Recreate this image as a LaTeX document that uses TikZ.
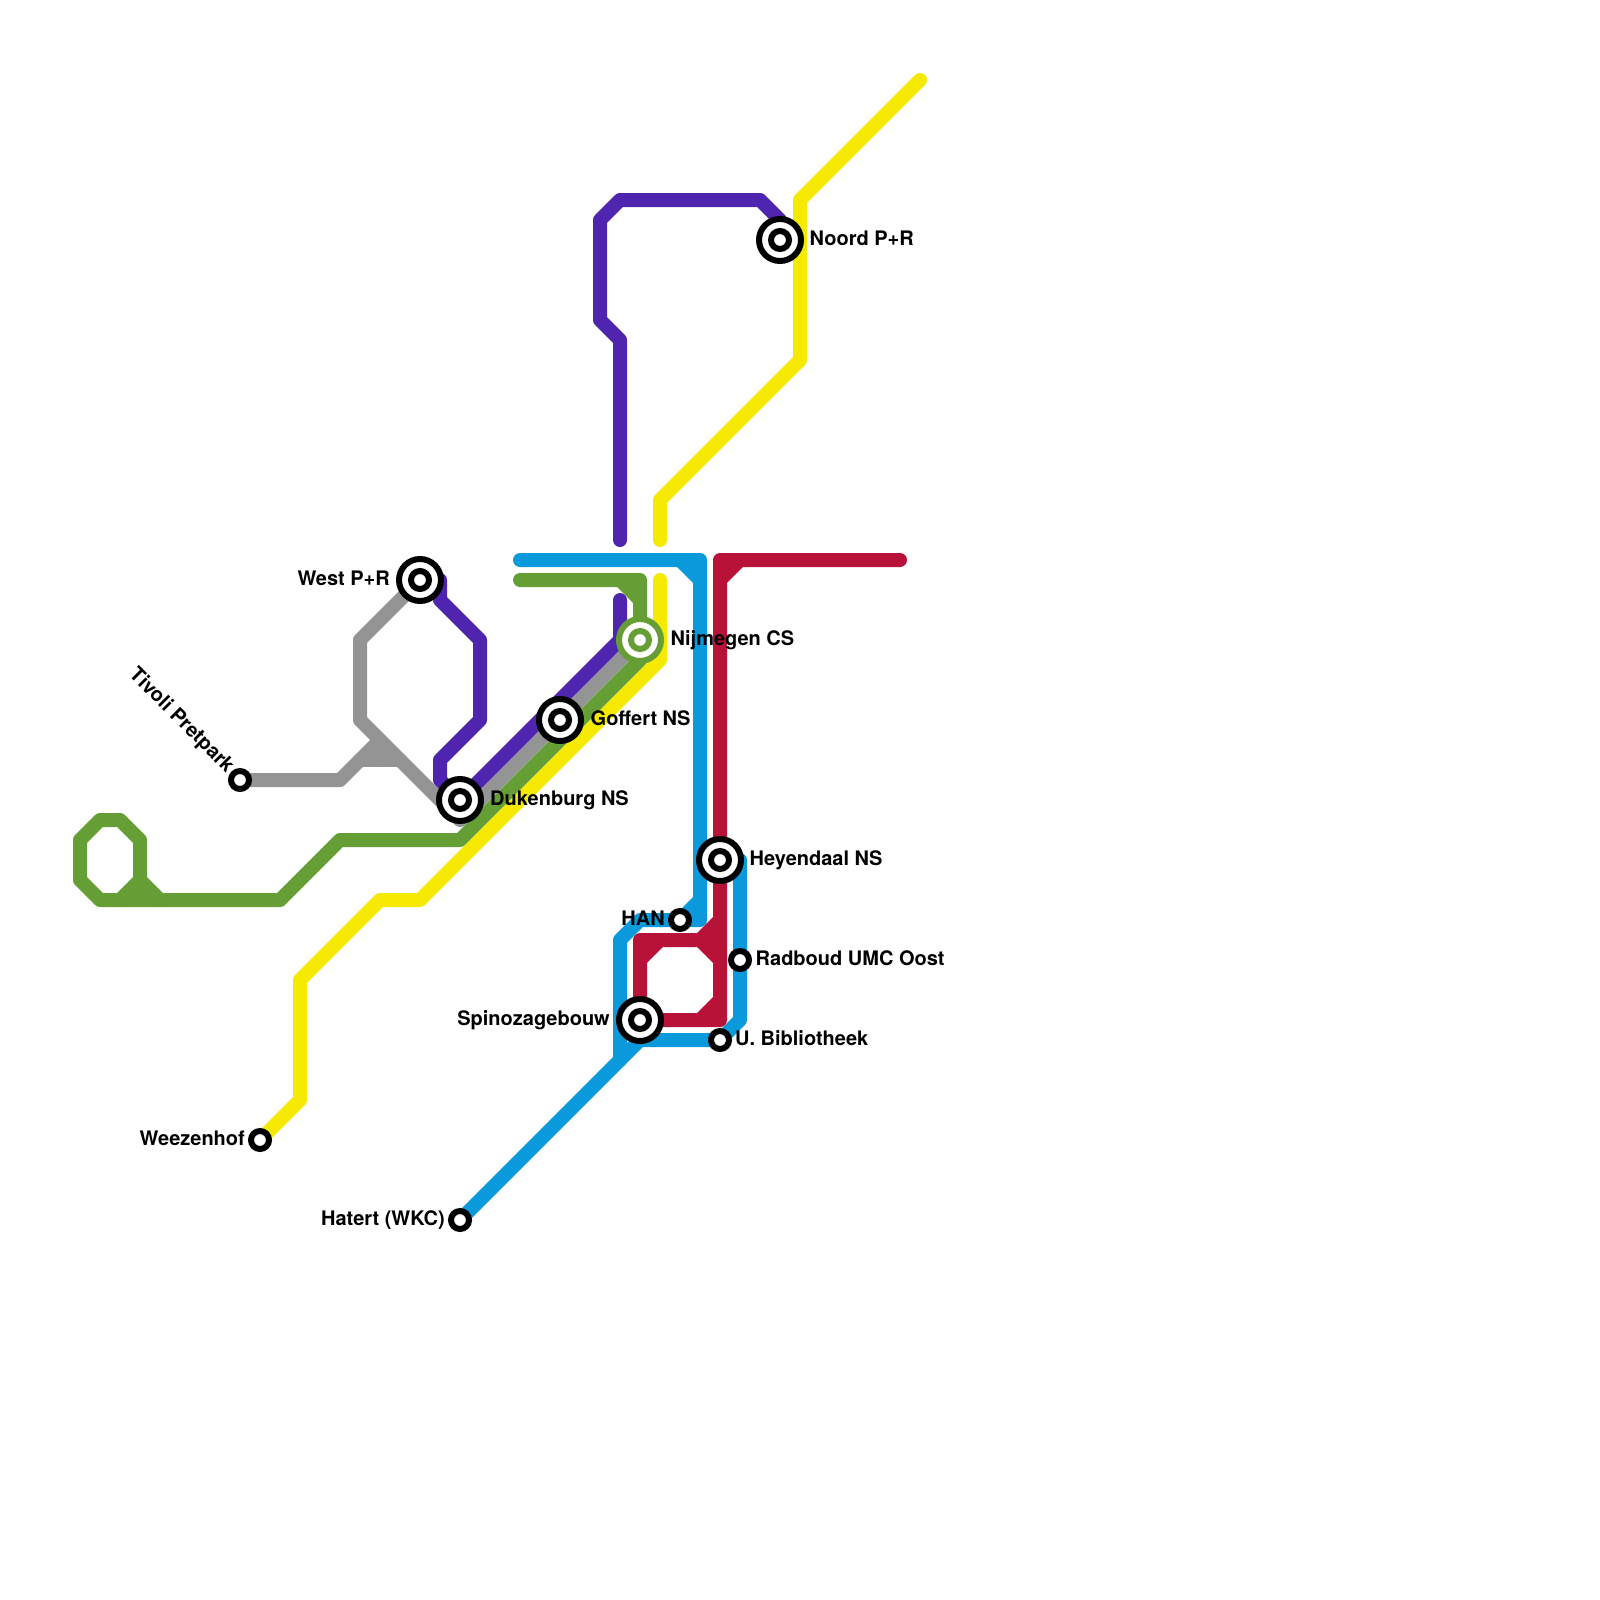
\documentclass[tikz,border=0pt]{standalone}
\usepackage{fontspec}
\setmainfont{TeX Gyre Heros}
\usetikzlibrary{positioning}
\usetikzlibrary{backgrounds}
\definecolor{linepurple}{RGB}{79,36,175}
\definecolor{linegrey}{RGB}{148,148,148}
\definecolor{linegreen}{RGB}{102,158,54}
\definecolor{lineyellow}{RGB}{245,234,0}
\definecolor{lineblue}{RGB}{10,153,218}
\definecolor{linered}{RGB}{184,18,57}
\tikzset{
  metro/.style={line width=14pt, line cap=round, line join=round},
  bigstop/.style={circle, draw=#1, fill=white, line width=6pt, minimum size=42pt, inner sep=0pt,
    path picture={\draw[#1, line width=6pt] (path picture bounding box.center) circle (9pt);}},
  bigstop/.default=black,
  smallstop/.style={circle, draw=black, fill=white, line width=6pt, minimum size=18pt, inner sep=0pt},
  stoplabel/.style={inner sep=0pt, text height=14pt, text depth=4pt, font=\fontsize{20}{24}\selectfont\bfseries},
}

\begin{document}
\begin{tikzpicture}[x=1pt, y=-1pt]
  \useasboundingbox (0,0) rectangle (1600,1600);

  \node[bigstop] (noord) at (780,240) {};
  \node[bigstop] (west) at (420,580) {};
  \node[bigstop=linegreen] (nijmegen) at (640,640) {};
  \node[bigstop] (goffert) at (560,720) {};
  \node[bigstop] (dukenburg) at (460,800) {};
  \node[bigstop] (heyendaal) at (720,860) {};
  \node[bigstop] (spinoza) at (640,1020) {};
  \node[smallstop] (tivoli) at (240,780) {};
  \node[smallstop] (han) at (680,920) {};
  \node[smallstop] (radboud) at (740,960) {};
  \node[smallstop] (bieb) at (720,1040) {};
  \node[smallstop] (weezenhof) at (260,1140) {};
  \node[smallstop] (hatert) at (460,1220) {};

  \node[stoplabel, right=5.5pt of noord] (lnoord) {Noord P+R};
  \node[stoplabel, left=6pt of west] (lwest) {West P+R};
  \node[stoplabel, right=6.5pt of nijmegen] (lnijmegen) {Nijmegen CS};
  \node[stoplabel, right=6.5pt of goffert] (lgoffert) {Goffert NS};
  \node[stoplabel, right=6pt of dukenburg] (ldukenburg) {Dukenburg NS};
  \node[stoplabel, right=5.5pt of heyendaal] (lheyendaal) {Heyendaal NS};
  \node[stoplabel, left=6pt of spinoza] (lspinoza) {Spinozagebouw};
  \node[stoplabel, left=3pt of han] (lhan) {HAN};
  \node[stoplabel, right=3.5pt of radboud] (lradboud) {Radboud UMC Oost};
  \node[stoplabel, right=3pt of bieb] (lbieb) {U. Bibliotheek};
  \node[stoplabel, left=3pt of weezenhof] (lweezenhof) {Weezenhof};
  \node[stoplabel, left=3pt of hatert] (lhatert) {Hatert (WKC)};
  \node[stoplabel, above left=1.5pt and 1.5pt of tivoli, anchor=east, rotate=-45] (ltivoli) {Tivoli Pretpark};

  \coordinate (purplestart) at (620,540);
  \coordinate (purplegap) at (620,600);
  \coordinate (yellowtop) at (920,80);
  \coordinate (yellowgap) at (660,540);
  \coordinate (yellowlow) at (660,580);
  \coordinate (bluestart) at (520,560);
  \coordinate (greenstart) at (520,580);
  \coordinate (redstart) at (900,560);

  \begin{pgfonlayer}{background}
    \draw[metro, lineyellow] (yellowtop) -- (800,200) -- (800,360) -- (660,500) -- (yellowgap);
    \draw[metro, lineyellow] (yellowlow) -- (660,660) -- (420,900) -- (380,900) -- (300,980) -- (300,1100) -- (weezenhof.center);

    \draw[metro, linegrey] (west.center) -- (360,640) -- (360,720) -- (460,820) -- (nijmegen.center);
    \draw[metro, linegrey] (tivoli.center) -- (340,780) -- (380,740) -- (380,760);
    \draw[metro, linegrey] (360,760) -- (400,760);

    \draw[metro, linepurple] (purplestart) -- (620,340) -- (600,320) -- (600,220) -- (620,200) -- (760,200) -- (780,220) -- (noord.center);
    \draw[metro, linepurple] (west.center) -- (440,580) -- (440,600) -- (480,640) -- (480,720) -- (440,760) -- (440,780) -- (dukenburg.center) -- (620,640) -- (purplegap);

    \draw[metro, linegreen] (greenstart) -- (640,580) -- (nijmegen.center) -- (640,660) -- (460,840) -- (340,840) -- (280,900) -- (100,900) -- (80,880) -- (80,840) -- (100,820) -- (120,820) -- (140,840) -- (140,900);
    \draw[metro, linegreen] (620,580) -- (640,600);
    \draw[metro, linegreen] (120,900) -- (140,880) -- (160,900);

    \draw[metro, lineblue] (bluestart) -- (700,560) -- (700,920) -- (han.center) -- (640,920) -- (620,940) -- (620,1060);
    \draw[metro, lineblue] (680,560) -- (700,580);
    \draw[metro, lineblue] (700,900) -- (han.center);
    \draw[metro, lineblue] (hatert.center) -- (640,1040) -- (bieb.center) -- (740,1020) -- (740,860) -- (heyendaal.center);

    \draw[metro, linered] (redstart) -- (720,560) -- (bieb.center |- spinoza.center) -- (spinoza.center) -- (640,940) -- (700,940) -- (720,920);
    \draw[metro, linered] (740,560) -- (720,580);
    \draw[metro, linered] (640,960) -- (660,940);
    \draw[metro, linered] (700,940) -- (720,960);
    \draw[metro, linered] (700,940) -- (720,940);
    \draw[metro, linered] (720,1000) -- (700,1020);
  \end{pgfonlayer}
\end{tikzpicture}
\end{document}
